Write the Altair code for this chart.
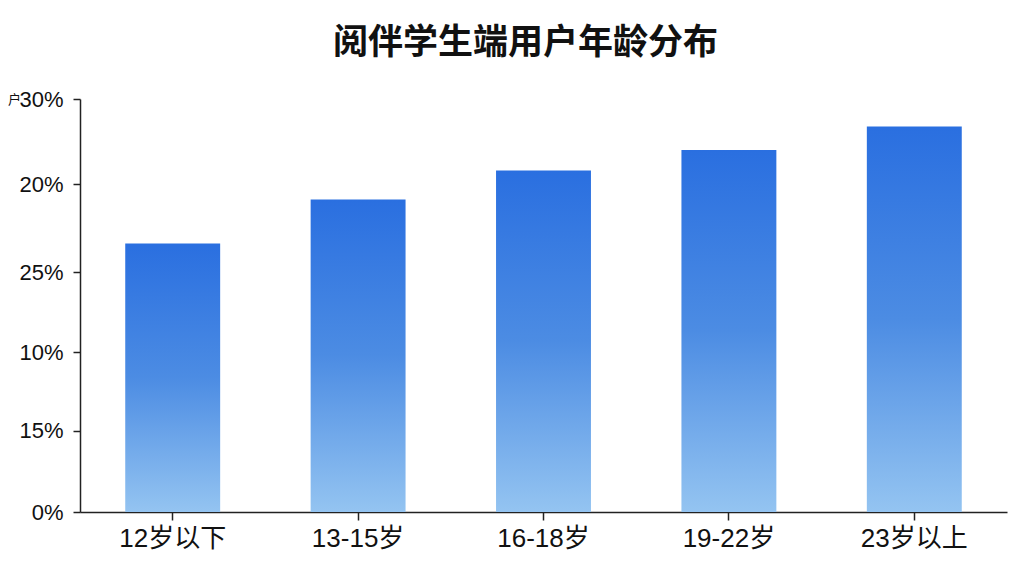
import altair as alt
import pandas as pd

categories = ["12岁以下", "13-15岁", "16-18岁", "19-22岁", "23岁以上"]
values = [19.5, 22.7, 24.8, 26.3, 28.0]
tick_values = [0, 5.9, 11.6, 17.4, 23.8, 30]
tick_labels = ["0%", "15%", "10%", "25%", "20%", "30%"]
title_text = "阅伴学生端用户年龄分布"
y_title = "户"

df = pd.DataFrame({"age": categories, "share": values})

label_expr = "''"
for v, lab in reversed(list(zip(tick_values, tick_labels))):
    label_expr = f"abs(datum.value - {v}) < 0.01 ? '{lab}' : ({label_expr})"

font_latin = "Liberation Sans, Noto Sans CJK SC, sans-serif"
font_cjk = "Noto Sans CJK SC, sans-serif"

gradient = alt.Gradient(
    gradient="linear",
    x1=0, y1=0, x2=0, y2=1,
    stops=[
        alt.GradientStop(offset=0, color="#2a6fe0"),
        alt.GradientStop(offset=0.5, color="#4c8ce3"),
        alt.GradientStop(offset=1, color="#94c4f1"),
    ],
)

chart = (
    alt.Chart(df)
    .mark_bar(color=gradient)
    .encode(
        x=alt.X(
            "age:N",
            sort=categories,
            title=None,
            scale=alt.Scale(paddingInner=0.488, paddingOuter=0.244),
            axis=alt.Axis(
                labelAngle=0,
                labelFont=font_latin,
                labelFontSize=26,
                labelColor="#111111",
                labelPadding=5,
                tickSize=8,
                tickColor="#222222",
                tickWidth=1.5,
                domainColor="#222222",
                domainWidth=1.5,
            ),
        ),
        y=alt.Y(
            "share:Q",
            scale=alt.Scale(domain=[0, 30], nice=False),
            title=y_title,
            axis=alt.Axis(
                values=tick_values,
                labelExpr=label_expr,
                grid=False,
                labelFont=font_latin,
                labelFontSize=22,
                labelColor="#111111",
                labelPadding=10,
                tickSize=7,
                tickColor="#222222",
                tickWidth=1.5,
                domainColor="#222222",
                domainWidth=1.5,
                titleAngle=0,
                titleAlign="right",
                titleBaseline="middle",
                titleX=-59.5,
                titleY=0,
                titleFont=font_cjk,
                titleFontSize=13,
                titleFontWeight="normal",
                titleColor="#111111",
            ),
        ),
    )
    .properties(
        width=927,
        height=413,
        title=alt.TitleParams(
            text=title_text,
            font=font_cjk,
            fontSize=35,
            fontWeight="bold",
            color="#111111",
            anchor="middle",
            baseline="middle",
            offset=10,
            dx=-18,
        ),
        autosize=alt.AutoSizeParams(type="none"),
        padding={"left": 72, "top": 91, "right": 9, "bottom": 49},
        background="white",
    )
    .configure_view(stroke=None)
)

chart.save("out.html", embed_options={"renderer": "svg", "actions": False})
